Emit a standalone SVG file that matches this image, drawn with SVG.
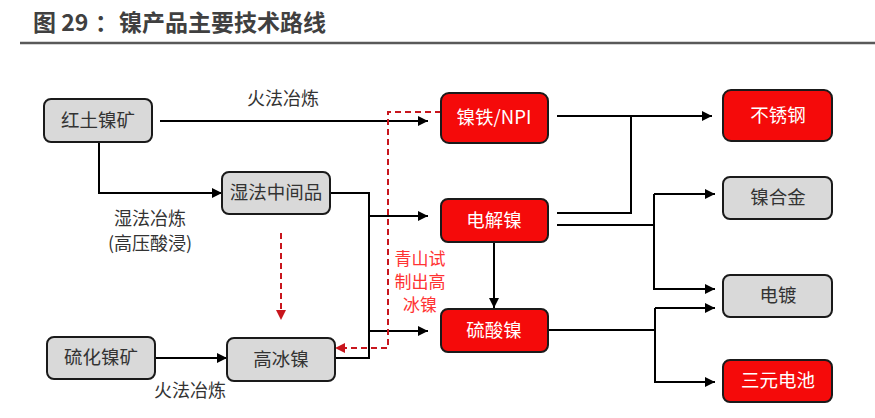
<svg xmlns="http://www.w3.org/2000/svg" width="875" height="418" viewBox="0 0 875 418">
<defs>
<marker id="ah" viewBox="0 0 10 10" refX="10" refY="5" markerWidth="10" markerHeight="10" markerUnits="userSpaceOnUse" orient="auto"><path d="M0,0 L10,5 L0,10 z" fill="#000"/></marker>
</defs>
<style>
text{font-family:"Noto Sans CJK SC","Liberation Sans",sans-serif;}
.g rect{fill:#d9d9d9;stroke:#1a1a1a;stroke-width:2;}
.r rect{fill:#f50a0a;stroke:#1a1a1a;stroke-width:2;}
.g text{fill:#333;font-size:18.5px;text-anchor:middle;}
.r text{fill:#fff;font-size:18.5px;text-anchor:middle;}
.c{fill:none;stroke:#000;stroke-width:2;}
.a{marker-end:url(#ah);}
.d{fill:none;stroke:#c8161d;stroke-width:2;stroke-dasharray:6,4;}
.lbl{fill:#333;font-size:18px;text-anchor:middle;}
.red{fill:#ff3333;font-size:17px;text-anchor:middle;}
</style>
<rect width="875" height="418" fill="#fff"/>
<text x="33" y="31" font-size="23" font-weight="bold" fill="#404040">图 29<tspan x="95">：</tspan><tspan x="119">镍产品主要技术路线</tspan></text>
<line x1="20" y1="43" x2="875" y2="43" stroke="#595959" stroke-width="2.5"/>

<g id="connectors">
<path class="c a" d="M160,121 H428"/>
<path class="c a" d="M99,142 V193 H222"/>
<path class="c" d="M330,193 H369 V358 H335"/>
<path class="c a" d="M369,216 H428"/>
<path class="c a" d="M369,331 H428"/>
<path class="c a" d="M155,358 H227"/>
<path class="c a" d="M494,242 V308"/>
<path class="c a" d="M557,116 H712"/>
<path class="c" d="M557,213 H631 V116"/>
<path class="c" d="M557,225 H654"/>
<path class="c a" d="M654,194 V289 H715"/>
<path class="c a" d="M654,194 H715"/>
<path class="c" d="M548,330 H655"/>
<path class="c a" d="M655,308 V382 H715"/>
<path class="c a" d="M655,308 H715"/>
<path class="d" d="M441,112 H388 V348 H345"/>
<path d="M335,348 L345,343 L345,353 z" fill="#c8161d"/>
<path class="d" d="M281,233 V310"/>
<path d="M281,320 L276,310 L286,310 z" fill="#c8161d"/>
</g>

<text class="lbl" x="283" y="105">火法冶炼</text>
<text class="lbl" x="150" y="225">湿法冶炼</text>
<text class="lbl" x="150" y="250">(高压酸浸)</text>
<text class="lbl" x="190" y="397">火法冶炼</text>
<text class="red" x="420" y="265">青山试</text>
<text class="red" x="420" y="288">制出高</text>
<text class="red" x="420" y="311">冰镍</text>

<g id="n1" class="g"><rect x="44" y="99" width="108" height="43" rx="7"/><text x="98" y="127">红土镍矿</text></g>
<g id="n2" class="g"><rect x="222" y="172" width="108" height="42" rx="7"/><text x="276" y="199">湿法中间品</text></g>
<g id="n3" class="g"><rect x="47" y="337" width="108" height="42" rx="7"/><text x="101" y="364">硫化镍矿</text></g>
<g id="n4" class="g"><rect x="227" y="338" width="108" height="43" rx="7"/><text x="281" y="366">高冰镍</text></g>
<g id="n5" class="r"><rect x="441" y="93" width="107" height="50" rx="8"/><text x="494" y="124">镍铁/NPI</text></g>
<g id="n6" class="r"><rect x="441" y="199" width="107" height="43" rx="7"/><text x="494" y="227">电解镍</text></g>
<g id="n7" class="r"><rect x="441" y="309" width="107" height="43" rx="7"/><text x="494" y="337">硫酸镍</text></g>
<g id="n8" class="r"><rect x="723" y="90" width="109" height="51" rx="8"/><text x="778" y="122">不锈钢</text></g>
<g id="n9" class="g"><rect x="723" y="177" width="109" height="42" rx="7"/><text x="778" y="204">镍合金</text></g>
<g id="n10" class="g"><rect x="723" y="275" width="109" height="42" rx="7"/><text x="778" y="302">电镀</text></g>
<g id="n11" class="r"><rect x="723" y="360" width="109" height="42" rx="7"/><text x="778" y="387">三元电池</text></g>
</svg>
